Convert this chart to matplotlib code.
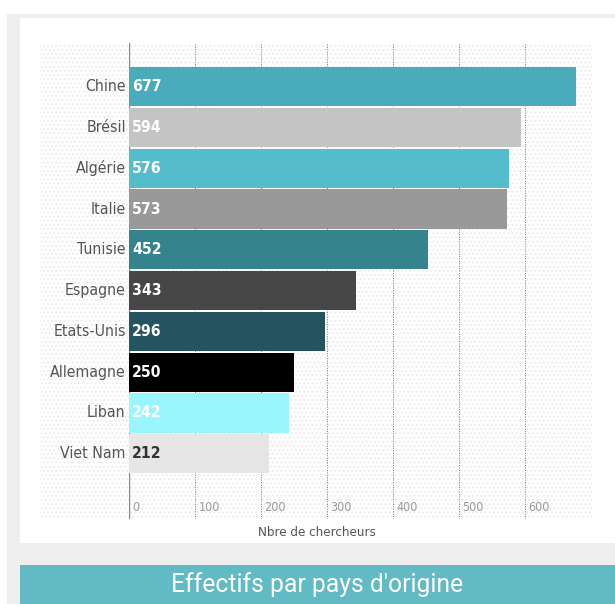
import matplotlib
matplotlib.use("Agg")
import matplotlib.pyplot as plt
from matplotlib.patches import Rectangle
import matplotlib.transforms as mtransforms

# ── Data ──────────────────────────────────────────────────────────────────────
pays = ["Chine", "Brésil", "Algérie", "Italie", "Tunisie",
        "Espagne", "Etats-Unis", "Allemagne", "Liban", "Viet Nam"]
effectifs = [677, 594, 576, 573, 452, 343, 296, 250, 242, 212]
couleurs = ["#4aabbb", "#c4c4c4", "#55bccb", "#999999", "#35838d",
            "#474747", "#23545f", "#000000", "#99f6ff", "#e6e6e6"]
couleurs_txt = ["white"] * 9 + ["#333333"]
ticks = [0, 100, 200, 300, 400, 500, 600]

NARROW = ["DejaVu Sans"]
W, H = 615, 604

fig = plt.figure(figsize=(W / 100, H / 100), dpi=100)
fig.patch.set_facecolor("white")

def px(x0, y0, x1, y1):
    # pixel box (top-left origin) -> figure fraction
    return [x0 / W, 1 - y1 / H, (x1 - x0) / W, (y1 - y0) / H]

def rect(x0, y0, x1, y1, **kw):
    r = Rectangle((x0 / W, 1 - y1 / H), (x1 - x0) / W, (y1 - y0) / H,
                  transform=fig.transFigure, **kw)
    fig.add_artist(r)
    return r

# ── Page background / panels ─────────────────────────────────────────────────
rect(7, 14, W, H, facecolor="#eeeeee", edgecolor="none", zorder=0)
rect(20, 18, W, 543, facecolor="white", edgecolor="none", zorder=0)
rect(40, 43, 592, 519, facecolor="white", edgecolor="#ededed",
     hatch="....", linewidth=0, zorder=0)
rect(20, 565, W, H, facecolor="#62bac5", edgecolor="none", zorder=0)

# ── Bars ─────────────────────────────────────────────────────────────────────
ax = fig.add_axes(px(129, 43, 592, 519))
ax.patch.set_alpha(0)
y = list(range(len(pays)))
ax.barh(y, effectifs, height=0.96, color=couleurs, zorder=3)
ax.set_xlim(0, 701)
ax.set_ylim(10.6, -1.07)

ax.set_xticks(ticks)
ax.grid(axis="x", linestyle=(0, (1, 1.5)), color="#777777", lw=0.7, zorder=1)
ax.axvline(0, color="#888888", lw=1, zorder=2)
ax.tick_params(length=0, labelbottom=False, labelleft=False)
ax.set_yticks([])
for s in ax.spines.values():
    s.set_visible(False)

trans = mtransforms.blended_transform_factory(ax.transData, ax.transAxes)
for t in ticks:
    ax.text(t + 5, 0.025, str(t), transform=trans, ha="left", va="center",
            fontsize=9, color="#999999", family=NARROW, fontstretch="condensed")

for i, (p, v) in enumerate(zip(pays, effectifs)):
    ax.text(-5, i, p, ha="right", va="center", fontsize=11.3,
            color="#555555", family=NARROW, fontstretch="condensed",
            clip_on=False)
    ax.text(5, i, str(v), ha="left", va="center", fontsize=11.3,
            color=couleurs_txt[i], fontweight="bold", family=NARROW,
            fontstretch="condensed", zorder=4)

fig.text(317 / W, 1 - 533 / H, "Nbre de chercheurs", ha="center", va="center",
         fontsize=9.5, color="#555555", family=NARROW, fontstretch="condensed")

fig.text(317 / W, 1 - 585 / H, "Effectifs par pays d'origine", ha="center",
         va="center", fontsize=17.8, color="white",
         family=["Roboto", "DejaVu Sans"])

plt.savefig("out.png", dpi=100)
